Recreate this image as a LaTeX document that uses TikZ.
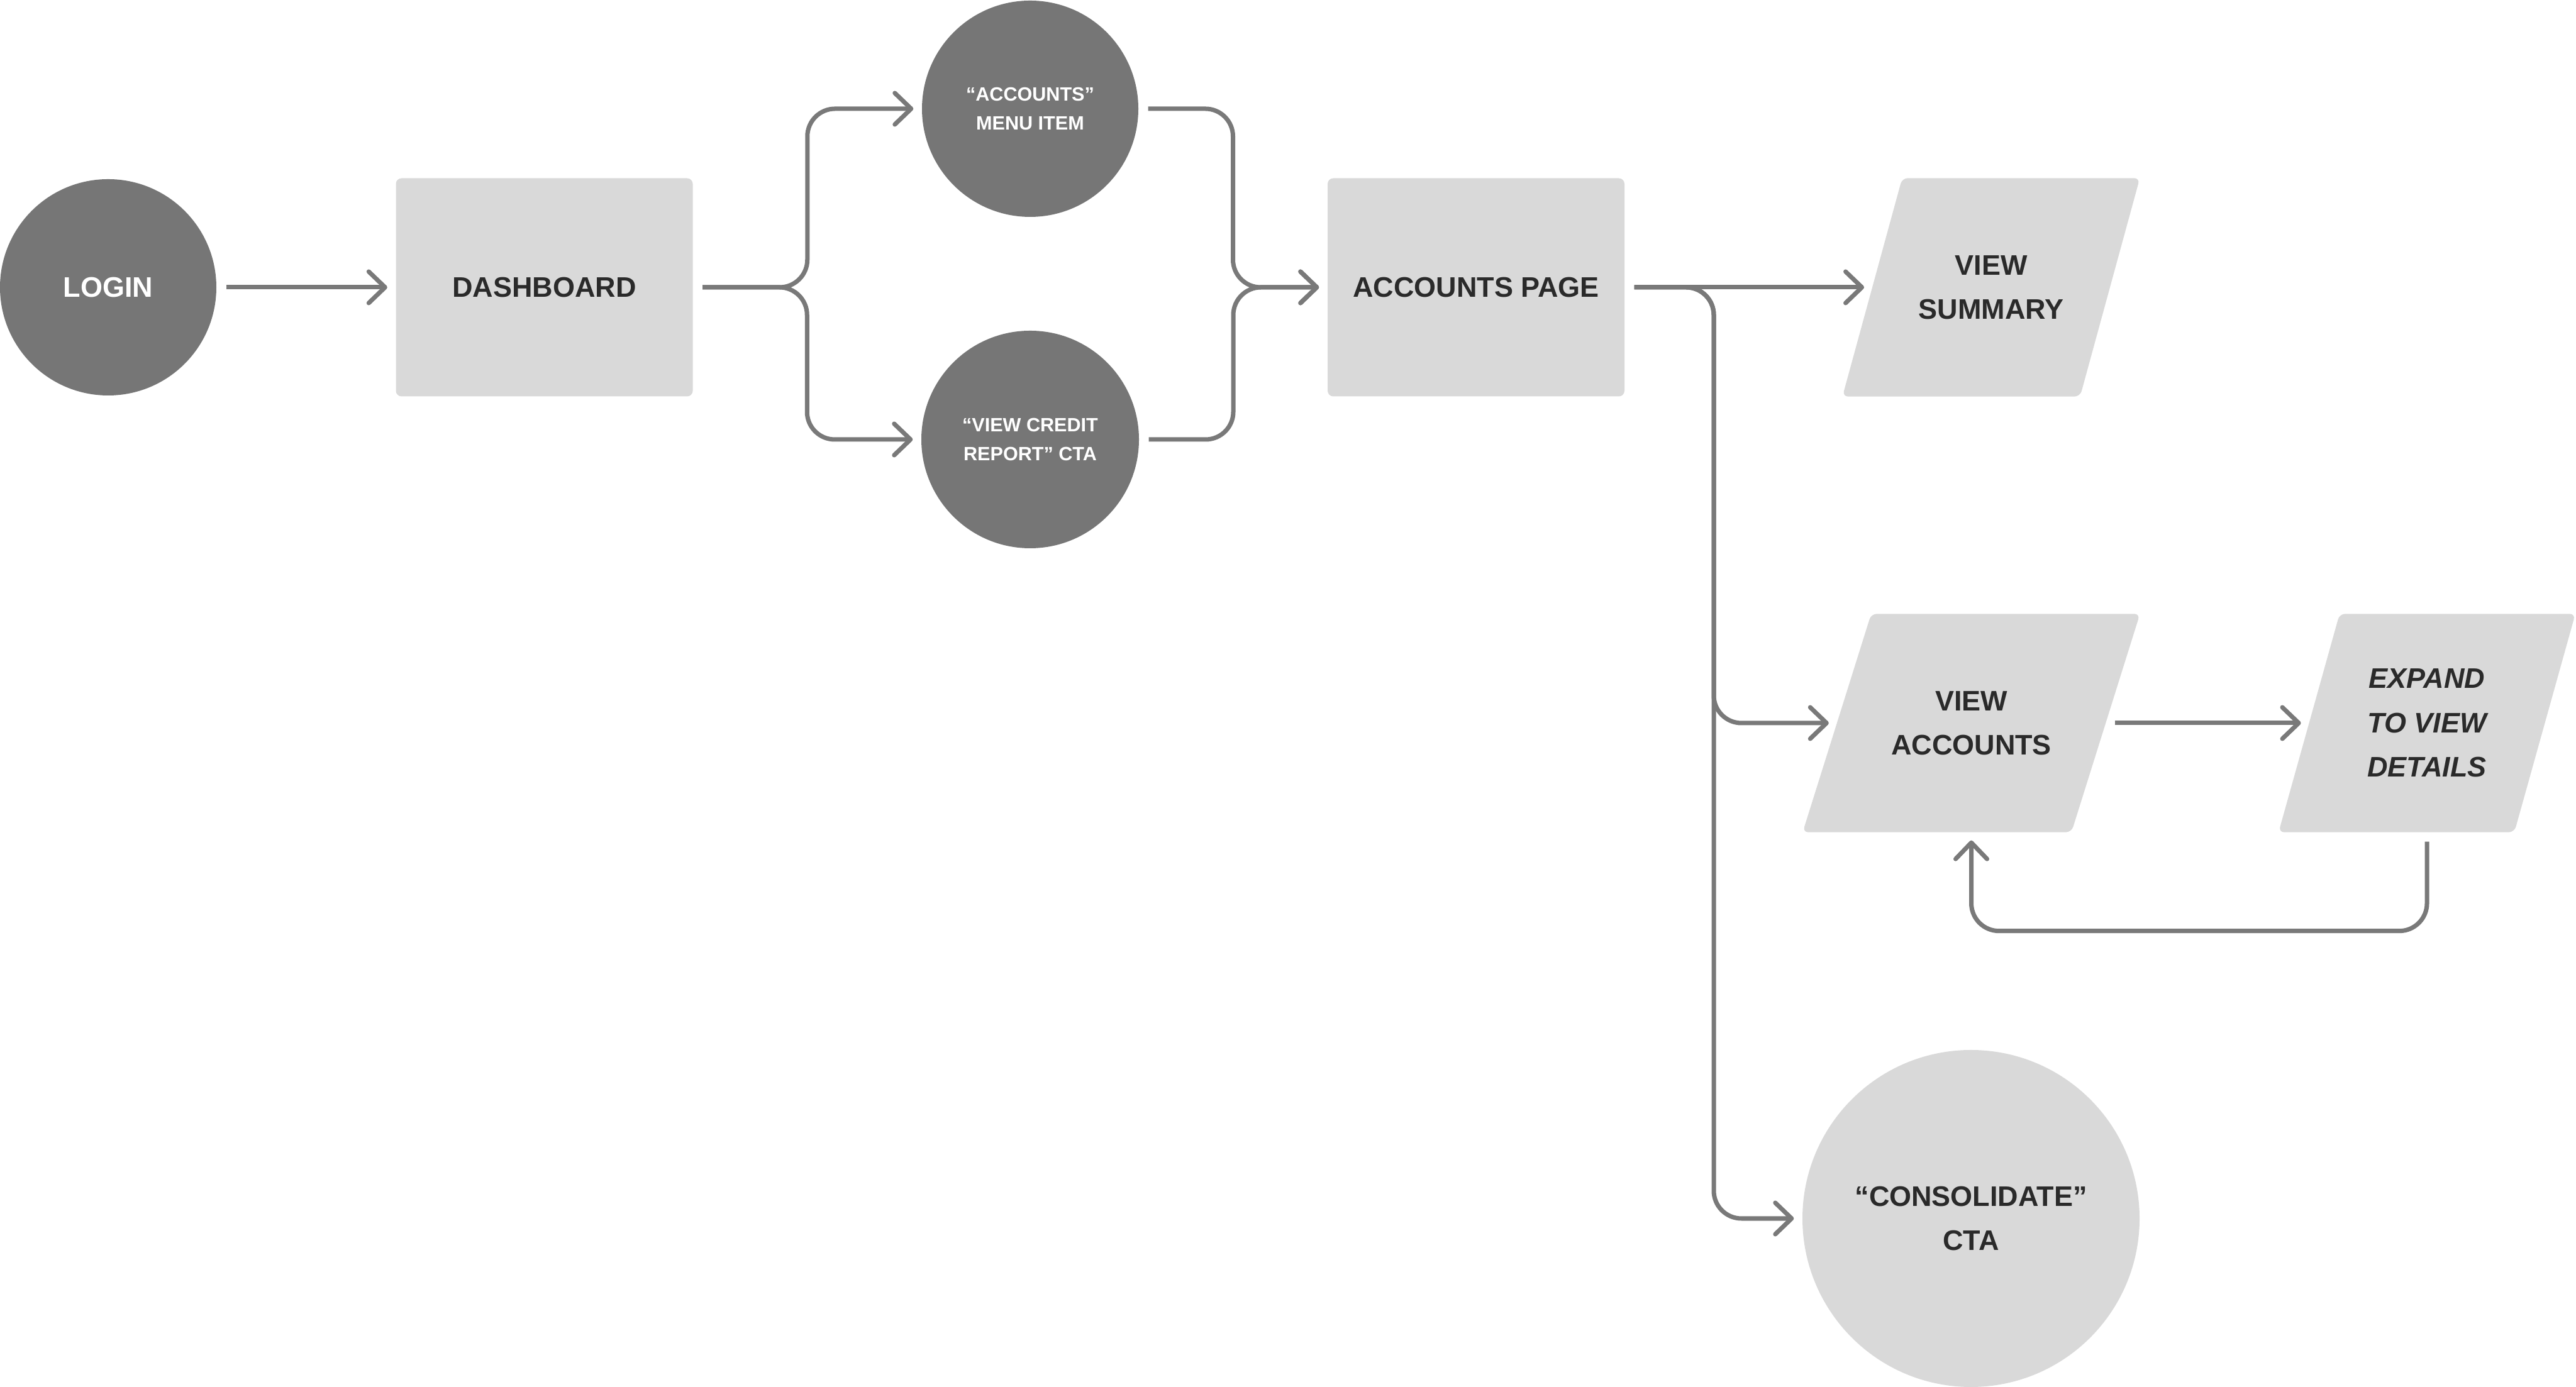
\documentclass[tikz,border=0pt]{standalone}
\usepackage{fontspec}
\setmainfont{Liberation Sans}
\usepackage{tikz}
\usetikzlibrary{arrows.meta,calc,backgrounds}
\definecolor{graphite}{RGB}{118,118,118}
\definecolor{silverlight}{RGB}{217,217,217}
\definecolor{wire}{RGB}{121,121,121}
\definecolor{charcoal}{RGB}{42,42,42}

\tikzset{
  bigtext/.style={font=\bfseries\fontsize{12.8}{20}\selectfont, align=center},
  smalltext/.style={font=\bfseries\fontsize{8.7}{13}\selectfont, align=center},
  darkdot/.style={circle, fill=graphite, text=white, minimum size=3.44cm, inner sep=0pt},
  pagebox/.style={rectangle, rounded corners=0.09cm, fill=silverlight, text=charcoal,
                  minimum width=4.72cm, minimum height=3.47cm, bigtext},
  slantbox/.style={rectangle, text=charcoal, minimum height=3.46cm, inner sep=0pt, bigtext},
  flowline/.style={draw=wire, line width=2pt, rounded corners=0.44cm,
                   shorten <=0.15cm, shorten >=0.13cm,
                   -{Straight Barb[length=2.6mm,width=5mm,round]}},
}

\begin{document}
\begin{tikzpicture}
            \useasboundingbox (0,0) rectangle (40.96,22.06);
            % Entry
            \node[darkdot, bigtext]                       (login)   at ( 1.720, 17.49) {LOGIN};
            \node[pagebox]                                (dash)    at ( 8.655, 17.49) {DASHBOARD};
            % Two ways in
            \node[darkdot, smalltext]                     (menu)    at (16.380, 20.33) {“ACCOUNTS”\\MENU ITEM};
            \node[darkdot, smalltext, minimum size=3.46cm] (credit) at (16.380, 15.07) {“VIEW CREDIT\\REPORT” CTA};
            \node[pagebox]                                (accpage) at (23.470, 17.49) {ACCOUNTS PAGE};
            % Page content
            \node[slantbox, minimum width=3.765cm]         (summary) at (31.660, 17.49) {VIEW\\SUMMARY};
            \node[slantbox, minimum width=4.26cm]          (viewacc) at (31.345, 10.56) {VIEW\\ACCOUNTS};
            \node[slantbox, minimum width=3.735cm, font=\bfseries\itshape\fontsize{12.8}{20}\selectfont]
                                                          (expand)  at (38.590, 10.56) {EXPAND\\TO VIEW\\DETAILS};
            \node[circle, fill=silverlight, text=charcoal, minimum size=5.36cm, inner sep=0pt, bigtext]
                                                          (consol)  at (31.340,  2.68) {“CONSOLIDATE”\\CTA};
            % Parallelograms behind the slanted boxes
            \begin{scope}[on background layer]
              \foreach \n/\s in {summary/0.475, viewacc/0.545, expand/0.485}
                \fill[silverlight, rounded corners=0.09cm]
                  ($(\n.south west)+(-\s,0)$) -- ($(\n.north west)+(\s,0)$) --
                  ($(\n.north east)+(\s,0)$) -- ($(\n.south east)+(-\s,0)$) -- cycle;
            \end{scope}
            % Connectors
            \coordinate (split) at (27.25, 17.49);
            \draw[flowline] (login) -- (dash);
            \draw[flowline] (dash.east) -| ($(dash.east)!0.5!(menu.west)$) |- (menu.west);
            \draw[flowline] (dash.east) -| ($(dash.east)!0.5!(credit.west)$) |- (credit.west);
            \draw[flowline] (menu.east) -| ($(menu.east)!0.5!(accpage.west)$) |- (accpage.west);
            \draw[flowline] (credit.east) -| ($(credit.east)!0.5!(accpage.west)$) |- (accpage.west);
            \draw[flowline] (accpage.east) -- (summary.west);
            \draw[flowline] (accpage.east) -- (split) |- (viewacc.west);
            \draw[flowline] (accpage.east) -- (split) |- (consol.west);
            \draw[flowline] (viewacc.east) -- (expand.west);
            \draw[flowline] (expand.south) -- ++(0,-1.57) -| (viewacc.south);
        \end{tikzpicture}
\end{document}
